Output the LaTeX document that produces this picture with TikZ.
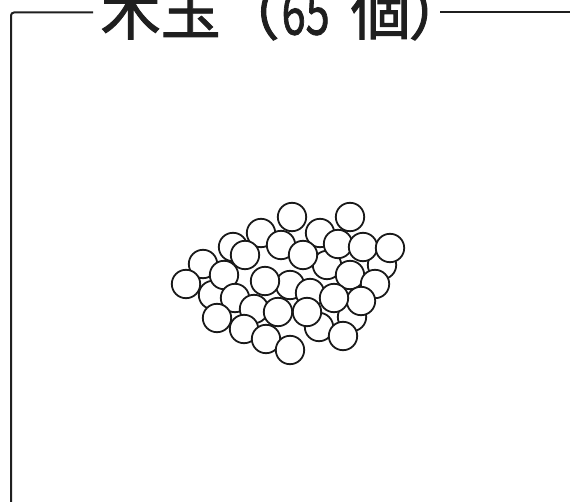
\documentclass[tikz,border=0pt]{standalone}
\usepackage{graphicx}
\usepackage{fontspec}
\newfontfamily\jpfont[FakeBold=1.6]{Noto Sans CJK JP}
\begin{document}
\begin{tikzpicture}[x=1pt,y=-1pt,
  ball/.style={draw=black!90,fill=white,line width=1.8pt},
  frameline/.style={draw=black!88,line width=2pt},
  title/.style={inner sep=0pt,font=\jpfont\fontsize{60}{60}\selectfont,text=black!88}]
\useasboundingbox (0,0) rectangle (570,502);
% frame
\coordinate (bl) at (11,503);
\coordinate (tl) at (93,12.5);
\coordinate (tr) at (440,12.5);
\coordinate (tre) at (571,12.5);
\draw[frameline,rounded corners=3pt] (bl) |- (tl);
\draw[frameline] (tr) -- (tre);
\node[title,anchor=base west] (t) at (100.5,34.5) {木玉\hspace{-1pt}（\hspace{2pt}\scalebox{0.72}[1]{65}\hspace{21pt}個\hspace{-2pt}）};
% balls (back to front)
\foreach \n/\x/\y in {
 b33/290/285, b34/213/295, b35/327/265, b32/382/265, b31/352/317,
 b30/320/233, b29/233/247, b28/261/233,
 b1/292/217, b2/350/217, b3/281/245, b6/338/244, b7/363/247, b8/390/248,
 b4/303/255, b5/245/255, b13/203/264, b12/186/284, b14/224/275,
 b9/265/281, b10/350/275, b11/375/284, b26/361/301, b20/310/293,
 b19/334/298, b15/235/298, b16/254/309, b21/217/318, b25/244/329,
 b17/278/312, b27/319/327, b18/307/312, b24/343/336, b22/266/339, b23/290/350}
 \node[ball,circle,minimum size=28.4pt,inner sep=0pt] (\n) at (\x,\y) {};
\end{tikzpicture}
\end{document}
